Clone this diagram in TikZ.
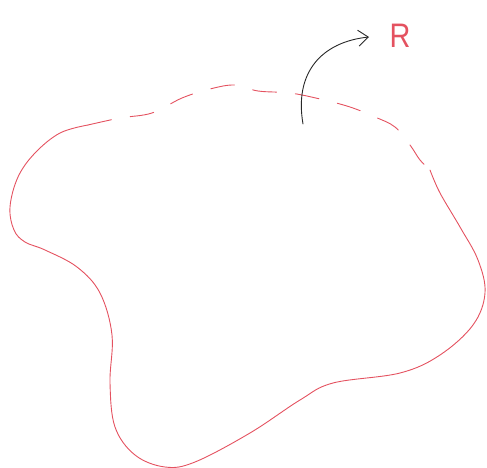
\documentclass[tikz,border=0pt]{standalone}
\usepackage{fontspec}
\setmainfont{Liberation Sans}
\usetikzlibrary{arrows.meta}
\definecolor{blobred}{RGB}{228,82,96}
\definecolor{pen}{RGB}{40,40,40}
\tikzset{
  outline/.style={draw=blobred, line width=0.9pt, line cap=round, line join=round},
  dashedoutline/.style={outline, dash pattern=on 24pt off 19pt},
  pointer/.style={draw=pen, line width=0.9pt, line cap=round, -{Straight Barb[length=10pt,width=16pt,line width=0.9pt]}},
  label/.style={text=blobred, font=\fontsize{34}{34}\selectfont, inner sep=0pt, xscale=0.85}
}
\begin{document}
\begin{tikzpicture}[x=1pt,y=-1pt]
\useasboundingbox (0,0) rectangle (487,468);
% solid part of the boundary
\draw[outline] plot[smooth, tension=0.6] coordinates {
 (88,125) (60,133) (35,153) (18,177) (10,207) (14,230) (25,242) (45,250)
 (77,267) (100,293) (112,335) (110,383) (115,427) (135,455) (165,467)
 (195,462) (250,433) (300,400) (333,383) (400,373) (440,355) (473,325)
 (485,293) (478,260) (460,227) (440,193) (430,170)};
% dashed part of the boundary
\draw[dashedoutline] plot[smooth, tension=0.6] coordinates {
 (88,125) (120,118) (152,113) (182,98) (210,89) (235,85) (258,91)
 (290,93) (320,99) (350,107) (375,117) (395,127) (410,145) (420,160) (430,170)};
% label and arrow
\node[label] (R) at (400,36) {R};
\coordinate (start) at (303,124);
\coordinate (tip) at (369,37);
\draw[pointer] (start) .. controls (294,72) and (322,42) .. (tip);
\end{tikzpicture}
\end{document}
